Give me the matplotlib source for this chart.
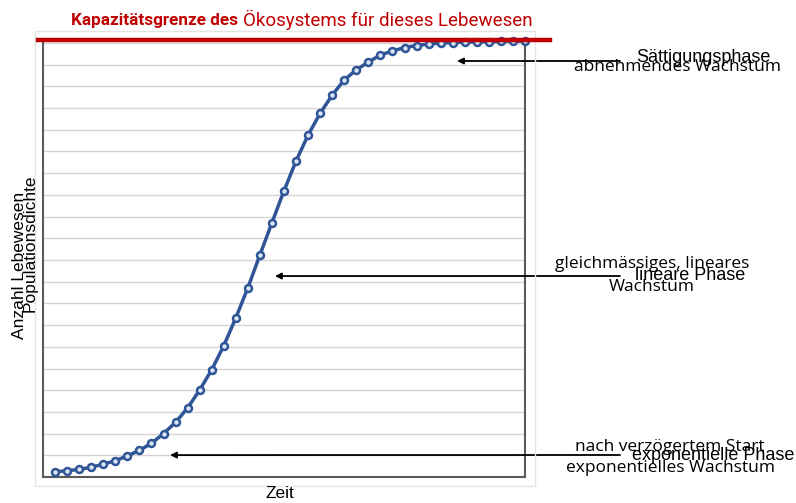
import matplotlib
matplotlib.use("Agg")
import matplotlib.pyplot as plt
from matplotlib.lines import Line2D
from matplotlib.patches import Rectangle

# Population (in gridline units) over time steps
zeit = list(range(40))
population = [0.24, 0.29, 0.35, 0.45, 0.59, 0.75, 0.97, 1.23, 1.55, 2.0,
              2.52, 3.18, 4.01, 4.94, 6.05, 7.33, 8.72, 10.23, 11.72, 13.19,
              14.56, 15.76, 16.76, 17.6, 18.3, 18.76, 19.12, 19.45, 19.63, 19.79,
              19.88, 19.95, 20.0, 20.02, 20.04, 20.05, 20.06, 20.07, 20.08, 20.09]
kapazitaet = 20

W, H = 796, 503


def px(x, y):
    # pixel position -> figure fraction
    return x / W, 1 - y / H


fig = plt.figure(figsize=(W / 100, H / 100), dpi=100)

# light outer chart frame
fig.patches.append(Rectangle(px(35, 486), 500 / W, 455 / H, transform=fig.transFigure,
                             fill=False, edgecolor='#e4e4e4', lw=1))

ax = fig.add_axes([43 / W, 1 - 477 / H, (525 - 43) / W, (477 - 43) / H])
ax.set_xlim(-1, 39)
ax.set_ylim(0, kapazitaet)
ax.set_yticks(range(0, kapazitaet + 1))
ax.set_xticks([])
ax.yaxis.grid(True, color='#d4d4d4', lw=1)
ax.tick_params(left=False, labelleft=False)
ax.set_axisbelow(True)
for side in ('left', 'bottom', 'right'):
    ax.spines[side].set_color('#5a5a5a')
    ax.spines[side].set_linewidth(1.5)
ax.spines['top'].set_visible(False)

ax.plot(zeit, population, color='#2f5597', lw=2.5, marker='o', markersize=5,
        markerfacecolor='#dce6f2', markeredgecolor='#2f5597', markeredgewidth=1.8,
        clip_on=False, zorder=3)

# carrying capacity line
x0, y0 = px(38, 40)
x1, _ = px(550, 40)
fig.add_artist(Line2D([x0, x1], [y0, y0], transform=fig.transFigure,
                      color='#c00000', lw=3.2, zorder=5))

red = '#c00000'
fig.text(*px(238, 20), 'Kapazitätsgrenze des', color=red, fontsize=12.3,
         fontweight='bold', ha='right', va='center', family='Roboto')
fig.text(*px(243, 20), 'Ökosystems für dieses Lebewesen', color=red, fontsize=13.5,
         ha='left', va='center', family='Roboto')

# axis labels
fig.text(*px(280, 493), 'Zeit', fontsize=12.5, ha='center', va='center',
         family='Liberation Sans')
fig.text(*px(20, 265), 'Anzahl Lebewesen', fontsize=12.5, rotation=90,
         ha='center', va='center', family='Liberation Sans')
fig.text(*px(30, 243), 'Populationsdichte', fontsize=12.5, rotation=90,
         ha='center', va='center', family='Liberation Sans')

# phase arrows
arrows = [((33.36, 19.17), 61), ((18.25, 9.26), 276), ((9.54, 1.01), 455)]
for (tx, ty), ypx in arrows:
    ax.annotate('', xy=(tx, ty), xycoords='data',
                xytext=px(620, ypx), textcoords='figure fraction',
                arrowprops=dict(arrowstyle='-|>', color='black', lw=1.3,
                                mutation_scale=9, shrinkA=0, shrinkB=0))

# phase texts (overlapping as in the original)
fig.text(*px(703, 58), 'Sättigungsphase', fontsize=13, ha='center', va='center',
         family='Liberation Sans')
fig.text(*px(678, 67), 'abnehmendes Wachstum', fontsize=12.5, ha='center', va='center',
         family='Open Sans')

fig.text(*px(652, 264), 'gleichmässiges, lineares', fontsize=12.5, ha='center',
         va='center', family='Open Sans')
fig.text(*px(690, 276), 'lineare Phase', fontsize=13, ha='center', va='center',
         family='Liberation Sans')
fig.text(*px(652, 287), 'Wachstum', fontsize=12.5, ha='center', va='center',
         family='Open Sans')

fig.text(*px(670, 447), 'nach verzögertem Start', fontsize=12.5, ha='center',
         va='center', family='Open Sans')
fig.text(*px(713, 455), 'exponentielle Phase', fontsize=13, ha='center', va='center',
         family='Liberation Sans')
fig.text(*px(670, 468), 'exponentielles Wachstum', fontsize=12.5, ha='center',
         va='center', family='Open Sans')

fig.savefig('out.png', dpi=100)
